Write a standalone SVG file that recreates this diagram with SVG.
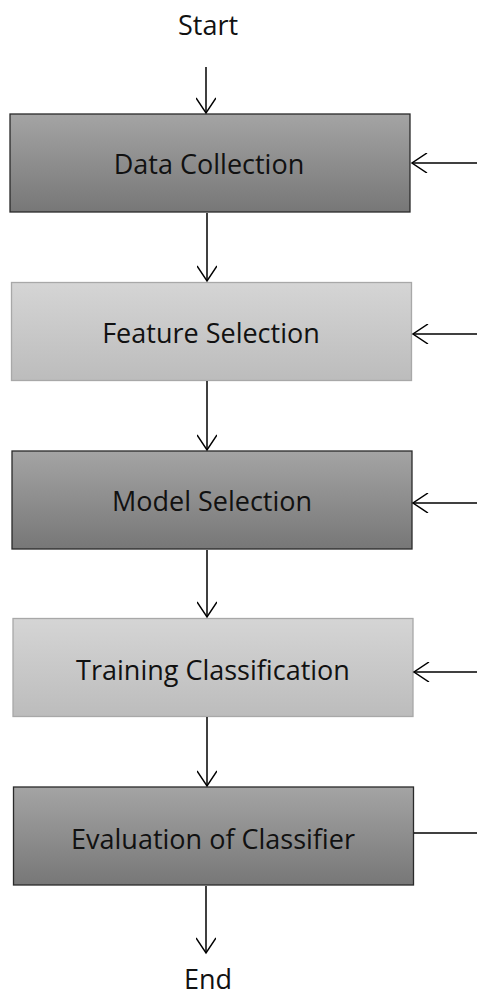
<svg xmlns="http://www.w3.org/2000/svg" width="477" height="998" viewBox="0 0 477 998">
<style>
text{font-family:"Open Sans","Noto Sans","DejaVu Sans",sans-serif;font-size:27px;fill:#111;text-anchor:middle}
.dark{fill:url(#gd);stroke:#2a2a2a;stroke-width:1.3}
.light{fill:url(#gl);stroke:#a8a8a8;stroke-width:1.3}
.c{stroke:#000;stroke-width:1.5;fill:none}
</style>
<defs>
<linearGradient id="gd" x1="0" y1="0" x2="0" y2="1"><stop offset="0" stop-color="#a4a4a4"/><stop offset="1" stop-color="#777"/></linearGradient>
<linearGradient id="gl" x1="0" y1="0" x2="0" y2="1"><stop offset="0" stop-color="#d5d5d5"/><stop offset="1" stop-color="#bcbcbc"/></linearGradient>
<marker id="ah" viewBox="0 0 20 20" refX="18" refY="10" markerWidth="20" markerHeight="20" markerUnits="userSpaceOnUse" orient="auto"><path d="M3 0 L18 10 L3 20" fill="none" stroke="#000" stroke-width="1.5"/></marker>
</defs>
<text x="208" y="35" font-size="24">Start</text>
<text x="208" y="989" font-size="24">End</text>
<g id="n1"><rect class="dark" x="10" y="114" width="400" height="98"/><text x="209" y="174">Data Collection</text></g>
<g id="n2"><rect class="light" x="11.5" y="282.5" width="400" height="98"/><text x="211" y="343">Feature Selection</text></g>
<g id="n3"><rect class="dark" x="12" y="451" width="400" height="98"/><text x="212" y="511">Model Selection</text></g>
<g id="n4"><rect class="light" x="13" y="618.5" width="400" height="98"/><text x="213" y="680">Training Classification</text></g>
<g id="n5"><rect class="dark" x="13.5" y="787" width="400" height="98"/><text x="213" y="849">Evaluation of Classifier</text></g>
<g id="connectors">
<path class="c" d="M206 67 V113" marker-end="url(#ah)"/>
<path class="c" d="M207 213 V281" marker-end="url(#ah)"/>
<path class="c" d="M207 381 V450" marker-end="url(#ah)"/>
<path class="c" d="M207 550 V617" marker-end="url(#ah)"/>
<path class="c" d="M207 717 V786" marker-end="url(#ah)"/>
<path class="c" d="M206 886 V953" marker-end="url(#ah)"/>
<path class="c" d="M477 163 H412" marker-end="url(#ah)"/>
<path class="c" d="M477 334 H413" marker-end="url(#ah)"/>
<path class="c" d="M477 503 H413" marker-end="url(#ah)"/>
<path class="c" d="M477 672 H414" marker-end="url(#ah)"/>
<path class="c" d="M477 833 H414"/>
</g>
</svg>
